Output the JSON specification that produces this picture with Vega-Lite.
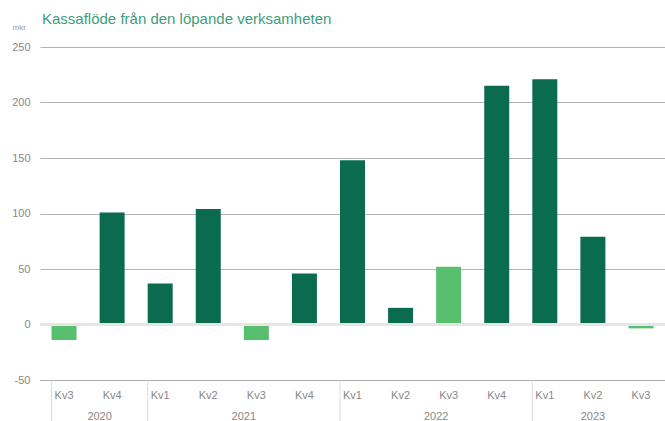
{
  "$schema": "https://vega.github.io/schema/vega-lite/v6.json",
  "width": 625,
  "height": 333,
  "autosize": {"type": "none"},
  "padding": {"left": 40, "top": 47, "right": 0, "bottom": 41},
  "background": "white",
  "title": {
    "text": "Kassaflöde från den löpande verksamheten",
    "anchor": "start",
    "frame": "group",
    "orient": "top",
    "offset": -4,
    "dx": 2,
    "font": "Liberation Sans",
    "fontSize": 15,
    "fontWeight": "normal",
    "color": "#3f9d7a"
  },
  "config": {
    "view": {"stroke": null},
    "font": "Liberation Sans"
  },
  "datasets": {
    "bars": [
      {"key": "2020-Kv3", "year": "2020", "kvartal": "Kv3", "value": -14},
      {"key": "2020-Kv4", "year": "2020", "kvartal": "Kv4", "value": 101},
      {"key": "2021-Kv1", "year": "2021", "kvartal": "Kv1", "value": 37},
      {"key": "2021-Kv2", "year": "2021", "kvartal": "Kv2", "value": 104},
      {"key": "2021-Kv3", "year": "2021", "kvartal": "Kv3", "value": -14},
      {"key": "2021-Kv4", "year": "2021", "kvartal": "Kv4", "value": 46},
      {"key": "2022-Kv1", "year": "2022", "kvartal": "Kv1", "value": 148},
      {"key": "2022-Kv2", "year": "2022", "kvartal": "Kv2", "value": 15},
      {"key": "2022-Kv3", "year": "2022", "kvartal": "Kv3", "value": 52},
      {"key": "2022-Kv4", "year": "2022", "kvartal": "Kv4", "value": 215},
      {"key": "2023-Kv1", "year": "2023", "kvartal": "Kv1", "value": 221},
      {"key": "2023-Kv2", "year": "2023", "kvartal": "Kv2", "value": 79},
      {"key": "2023-Kv3", "year": "2023", "kvartal": "Kv3", "value": -3.5}
    ],
    "separators": [
      {"key": "2020-Kv3"},
      {"key": "2021-Kv1"},
      {"key": "2022-Kv1"},
      {"key": "2023-Kv1"}
    ],
    "yearsEven": [
      {"key": "2020-Kv4", "year": "2020"},
      {"key": "2021-Kv3", "year": "2021"},
      {"key": "2022-Kv3", "year": "2022"}
    ],
    "yearsOdd": [
      {"key": "2023-Kv2", "year": "2023"}
    ]
  },
  "layer": [
    {
      "data": {"name": "bars"},
      "mark": {"type": "bar"},
      "encoding": {
        "x": {
          "field": "key",
          "type": "nominal",
          "scale": {
            "domain": ["2020-Kv3","2020-Kv4","2021-Kv1","2021-Kv2","2021-Kv3","2021-Kv4","2022-Kv1","2022-Kv2","2022-Kv3","2022-Kv4","2023-Kv1","2023-Kv2","2023-Kv3"],
            "paddingInner": 0.48,
            "paddingOuter": 0.24
          },
          "axis": {
            "title": null,
            "labelExpr": "split(datum.value, '-')[1]",
            "labelAngle": 0,
            "ticks": false,
            "domain": true,
            "domainColor": "#aaaaaa",
            "domainWidth": 1,
            "labelColor": "#888888",
            "labelFontSize": 11,
            "labelPadding": 9,
            "grid": false
          }
        },
        "y": {
          "field": "value",
          "type": "quantitative",
          "scale": {"domain": [-50, 250], "nice": false, "zero": false},
          "axis": {
            "title": "mkr",
            "titleAngle": 0,
            "titleAlign": "left",
            "titleBaseline": "middle",
            "titleX": -28,
            "titleY": -20,
            "titleFontSize": 8,
            "titleFontWeight": "normal",
            "titleColor": "#999999",
            "values": [-50, 0, 50, 100, 150, 200, 250],
            "labelExpr": "replace(datum.label, '−', '-')",
            "domain": false,
            "ticks": false,
            "grid": true,
            "gridColor": "#b5b5b5",
            "gridWidth": 1,
            "labelColor": "#888888",
            "labelFontSize": 11,
            "labelPadding": 10
          }
        },
        "color": {
          "field": "kvartal",
          "type": "nominal",
          "scale": {
            "domain": ["Kv1", "Kv2", "Kv3", "Kv4"],
            "range": ["#0b6b4f", "#0b6b4f", "#57bf6e", "#0b6b4f"]
          },
          "legend": null
        }
      }
    },
    {
      "data": {"name": "bars"},
      "mark": {"type": "rule", "color": "#e6e6e6", "strokeWidth": 2},
      "encoding": {
        "y": {"datum": 0, "type": "quantitative"}
      }
    },
    {
      "data": {"name": "separators"},
      "mark": {"type": "rule", "color": "#dddddd", "strokeWidth": 1, "clip": false},
      "encoding": {
        "x": {"field": "key", "type": "nominal", "bandPosition": 0},
        "y": {"datum": -50, "type": "quantitative"},
        "y2": {"datum": -95}
      }
    },
    {
      "data": {"name": "yearsEven"},
      "mark": {"type": "text", "color": "#888888", "fontSize": 11, "baseline": "middle", "align": "center", "clip": false},
      "encoding": {
        "x": {"field": "key", "type": "nominal", "bandPosition": 0},
        "y": {"datum": -83.5, "type": "quantitative"},
        "text": {"field": "year"}
      }
    },
    {
      "data": {"name": "yearsOdd"},
      "mark": {"type": "text", "color": "#888888", "fontSize": 11, "baseline": "middle", "align": "center", "clip": false},
      "encoding": {
        "x": {"field": "key", "type": "nominal", "bandPosition": 0.5},
        "y": {"datum": -83.5, "type": "quantitative"},
        "text": {"field": "year"}
      }
    }
  ]
}
